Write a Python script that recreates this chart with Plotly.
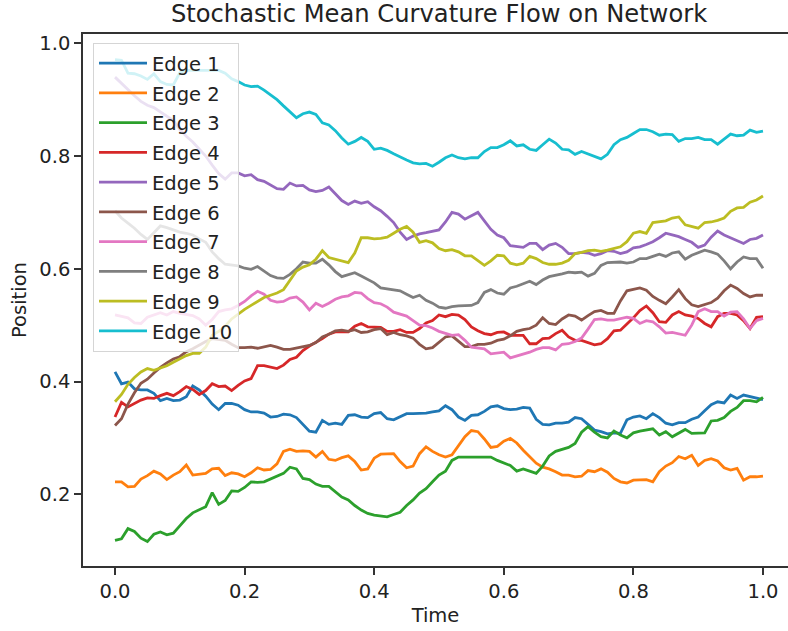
import plotly.graph_objects as go

time = [round(i / 100, 2) for i in range(101)]

edge1 = [0.417, 0.396, 0.399, 0.387, 0.385, 0.385, 0.379, 0.366, 0.370, 0.366,
         0.367, 0.373, 0.392, 0.385, 0.374, 0.360, 0.350, 0.361, 0.361, 0.358,
         0.350, 0.346, 0.346, 0.344, 0.337, 0.338, 0.342, 0.341, 0.336, 0.323,
         0.312, 0.310, 0.331, 0.324, 0.326, 0.324, 0.340, 0.341, 0.337, 0.336,
         0.343, 0.345, 0.334, 0.332, 0.337, 0.343, 0.343, 0.343, 0.344, 0.346,
         0.348, 0.357, 0.350, 0.337, 0.331, 0.340, 0.341, 0.347, 0.355, 0.357,
         0.352, 0.350, 0.351, 0.354, 0.353, 0.333, 0.324, 0.323, 0.326, 0.326,
         0.328, 0.336, 0.334, 0.324, 0.314, 0.311, 0.307, 0.309, 0.308, 0.332,
         0.337, 0.339, 0.334, 0.343, 0.336, 0.326, 0.323, 0.327, 0.327, 0.333,
         0.337, 0.348, 0.359, 0.364, 0.362, 0.376, 0.370, 0.376, 0.373, 0.370,
         0.368]
edge2 = [0.222, 0.222, 0.213, 0.214, 0.227, 0.233, 0.241, 0.236, 0.226, 0.234,
         0.240, 0.252, 0.234, 0.235, 0.237, 0.245, 0.246, 0.233, 0.238, 0.236,
         0.231, 0.238, 0.247, 0.243, 0.244, 0.254, 0.276, 0.280, 0.276, 0.277,
         0.276, 0.266, 0.276, 0.262, 0.260, 0.265, 0.268, 0.258, 0.243, 0.245,
         0.264, 0.271, 0.272, 0.272, 0.258, 0.247, 0.250, 0.272, 0.284, 0.276,
         0.270, 0.266, 0.270, 0.286, 0.302, 0.313, 0.311, 0.298, 0.283, 0.285,
         0.294, 0.299, 0.291, 0.278, 0.267, 0.255, 0.248, 0.245, 0.240, 0.234,
         0.234, 0.231, 0.232, 0.242, 0.240, 0.245, 0.239, 0.228, 0.222, 0.220,
         0.225, 0.226, 0.226, 0.222, 0.240, 0.250, 0.256, 0.267, 0.263, 0.269,
         0.251, 0.260, 0.263, 0.259, 0.247, 0.243, 0.246, 0.225, 0.231, 0.231,
         0.232]
edge3 = [0.118, 0.121, 0.139, 0.134, 0.122, 0.116, 0.129, 0.133, 0.128, 0.131,
         0.144, 0.157, 0.167, 0.172, 0.178, 0.203, 0.182, 0.189, 0.206, 0.205,
         0.212, 0.222, 0.221, 0.222, 0.227, 0.233, 0.237, 0.248, 0.245, 0.228,
         0.226, 0.218, 0.214, 0.214, 0.205, 0.195, 0.190, 0.180, 0.172, 0.166,
         0.163, 0.161, 0.160, 0.164, 0.168, 0.180, 0.190, 0.202, 0.210, 0.222,
         0.234, 0.241, 0.260, 0.266, 0.266, 0.266, 0.267, 0.267, 0.266, 0.260,
         0.255, 0.251, 0.241, 0.245, 0.241, 0.237, 0.250, 0.268, 0.276, 0.280,
         0.283, 0.290, 0.310, 0.320, 0.310, 0.302, 0.300, 0.312, 0.305, 0.300,
         0.309, 0.312, 0.314, 0.316, 0.305, 0.311, 0.302, 0.308, 0.315, 0.308,
         0.308, 0.309, 0.330, 0.331, 0.336, 0.347, 0.354, 0.366, 0.366, 0.364,
         0.372]
edge4 = [0.337, 0.363, 0.355, 0.361, 0.367, 0.371, 0.370, 0.375, 0.379, 0.375,
         0.382, 0.391, 0.386, 0.377, 0.384, 0.396, 0.391, 0.392, 0.384, 0.393,
         0.401, 0.405, 0.428, 0.428, 0.425, 0.423, 0.429, 0.439, 0.443, 0.455,
         0.463, 0.469, 0.476, 0.484, 0.488, 0.488, 0.488, 0.498, 0.503, 0.497,
         0.496, 0.496, 0.489, 0.489, 0.492, 0.487, 0.487, 0.494, 0.504, 0.508,
         0.518, 0.515, 0.519, 0.518, 0.510, 0.497, 0.490, 0.485, 0.483, 0.487,
         0.488, 0.482, 0.482, 0.482, 0.467, 0.467, 0.476, 0.477, 0.485, 0.491,
         0.479, 0.473, 0.473, 0.469, 0.465, 0.467, 0.476, 0.490, 0.491, 0.502,
         0.513, 0.526, 0.534, 0.522, 0.506, 0.505, 0.518, 0.524, 0.518, 0.516,
         0.512, 0.503, 0.497, 0.515, 0.521, 0.521, 0.518, 0.508, 0.494, 0.514,
         0.515]
edge5 = [0.940, 0.929, 0.917, 0.907, 0.897, 0.890, 0.886, 0.878, 0.871, 0.863,
         0.847, 0.835, 0.825, 0.813, 0.800, 0.784, 0.769, 0.759, 0.770, 0.770,
         0.765, 0.767, 0.758, 0.755, 0.749, 0.742, 0.741, 0.752, 0.747, 0.748,
         0.740, 0.737, 0.739, 0.745, 0.733, 0.721, 0.714, 0.720, 0.716, 0.719,
         0.710, 0.703, 0.693, 0.682, 0.665, 0.652, 0.658, 0.662, 0.664, 0.666,
         0.669, 0.683, 0.700, 0.697, 0.688, 0.694, 0.700, 0.685, 0.670, 0.660,
         0.655, 0.641, 0.639, 0.638, 0.645, 0.645, 0.634, 0.642, 0.645, 0.638,
         0.627, 0.627, 0.629, 0.628, 0.624, 0.627, 0.632, 0.631, 0.627, 0.630,
         0.637, 0.639, 0.643, 0.648, 0.655, 0.663, 0.660, 0.657, 0.652, 0.647,
         0.638, 0.642, 0.656, 0.667, 0.660, 0.655, 0.650, 0.645, 0.652, 0.654,
         0.660]
edge6 = [0.322, 0.334, 0.360, 0.380, 0.397, 0.404, 0.415, 0.425, 0.433, 0.440,
         0.444, 0.453, 0.458, 0.465, 0.471, 0.476, 0.474, 0.473, 0.466, 0.460,
         0.460, 0.461, 0.459, 0.461, 0.464, 0.461, 0.457, 0.457, 0.459, 0.461,
         0.464, 0.469, 0.479, 0.484, 0.490, 0.491, 0.489, 0.492, 0.487, 0.488,
         0.492, 0.494, 0.483, 0.487, 0.483, 0.481, 0.477, 0.466, 0.458, 0.460,
         0.470, 0.479, 0.481, 0.472, 0.462, 0.462, 0.466, 0.466, 0.468, 0.473,
         0.475, 0.481, 0.489, 0.492, 0.494, 0.500, 0.513, 0.503, 0.501, 0.511,
         0.518, 0.516, 0.509, 0.517, 0.524, 0.526, 0.521, 0.521, 0.543, 0.561,
         0.564, 0.566, 0.562, 0.551, 0.544, 0.538, 0.550, 0.563, 0.547, 0.536,
         0.533, 0.536, 0.540, 0.548, 0.561, 0.571, 0.565, 0.556, 0.550, 0.553,
         0.553]
edge7 = [0.518, 0.516, 0.513, 0.504, 0.503, 0.514, 0.518, 0.522, 0.518, 0.524,
         0.521, 0.519, 0.517, 0.511, 0.500, 0.510, 0.524, 0.527, 0.529, 0.535,
         0.542, 0.552, 0.560, 0.555, 0.544, 0.541, 0.542, 0.548, 0.550, 0.541,
         0.527, 0.539, 0.533, 0.539, 0.546, 0.550, 0.552, 0.558, 0.557, 0.547,
         0.540, 0.538, 0.532, 0.523, 0.520, 0.516, 0.508, 0.500, 0.499, 0.495,
         0.489, 0.486, 0.482, 0.483, 0.473, 0.461, 0.460, 0.458, 0.449, 0.451,
         0.452, 0.442, 0.445, 0.448, 0.452, 0.457, 0.460, 0.460, 0.456, 0.466,
         0.467, 0.471, 0.477, 0.493, 0.510, 0.511, 0.509, 0.509, 0.512, 0.514,
         0.512, 0.503, 0.508, 0.506, 0.497, 0.486, 0.487, 0.485, 0.482, 0.500,
         0.524, 0.529, 0.524, 0.524, 0.516, 0.523, 0.524, 0.511, 0.494, 0.508,
         0.512]
edge8 = [0.703, 0.690, 0.681, 0.672, 0.661, 0.652, 0.664, 0.676, 0.673, 0.669,
         0.665, 0.663, 0.660, 0.653, 0.647, 0.630, 0.618, 0.608, 0.607, 0.605,
         0.601, 0.599, 0.604, 0.596, 0.588, 0.584, 0.583, 0.590, 0.600, 0.612,
         0.610, 0.610, 0.617, 0.607, 0.595, 0.586, 0.590, 0.593, 0.587, 0.581,
         0.575, 0.566, 0.564, 0.562, 0.561, 0.555, 0.549, 0.553, 0.544, 0.539,
         0.532, 0.530, 0.533, 0.534, 0.534, 0.535, 0.540, 0.558, 0.563, 0.557,
         0.555, 0.566, 0.569, 0.573, 0.578, 0.572, 0.580, 0.586, 0.588, 0.591,
         0.594, 0.593, 0.594, 0.587, 0.592, 0.606, 0.611, 0.612, 0.612, 0.610,
         0.612, 0.618, 0.618, 0.622, 0.626, 0.622, 0.628, 0.630, 0.617, 0.624,
         0.629, 0.633, 0.630, 0.626, 0.614, 0.600, 0.612, 0.621, 0.618, 0.618,
         0.601]
edge9 = [0.364, 0.377, 0.395, 0.407, 0.417, 0.423, 0.420, 0.424, 0.428, 0.434,
         0.440, 0.446, 0.450, 0.450, 0.461, 0.482, 0.489, 0.498, 0.511, 0.520,
         0.528, 0.535, 0.542, 0.549, 0.553, 0.557, 0.563, 0.580, 0.596, 0.603,
         0.607, 0.617, 0.632, 0.620, 0.617, 0.613, 0.611, 0.628, 0.655, 0.655,
         0.653, 0.654, 0.656, 0.663, 0.670, 0.675, 0.665, 0.647, 0.650, 0.646,
         0.636, 0.632, 0.634, 0.630, 0.623, 0.623, 0.615, 0.606, 0.614, 0.624,
         0.623, 0.610, 0.607, 0.610, 0.622, 0.618, 0.611, 0.608, 0.608, 0.610,
         0.615, 0.627, 0.629, 0.632, 0.633, 0.631, 0.633, 0.636, 0.639, 0.648,
         0.663, 0.666, 0.663, 0.682, 0.684, 0.685, 0.690, 0.692, 0.678, 0.675,
         0.672, 0.682, 0.683, 0.686, 0.690, 0.702, 0.708, 0.709, 0.718, 0.722,
         0.729]
edge10 = [0.971, 0.970, 0.947, 0.946, 0.942, 0.936, 0.946, 0.932, 0.927, 0.926,
          0.948, 0.952, 0.952, 0.952, 0.952, 0.952, 0.952, 0.947, 0.937, 0.932,
          0.926, 0.923, 0.924, 0.917, 0.909, 0.900, 0.889, 0.878, 0.868, 0.875,
          0.878, 0.874, 0.859, 0.855, 0.845, 0.832, 0.821, 0.826, 0.833, 0.826,
          0.812, 0.814, 0.810, 0.804, 0.798, 0.793, 0.788, 0.786, 0.787, 0.782,
          0.789, 0.797, 0.802, 0.797, 0.795, 0.797, 0.797, 0.808, 0.815, 0.815,
          0.820, 0.827, 0.818, 0.820, 0.812, 0.810, 0.820, 0.830, 0.823, 0.812,
          0.811, 0.803, 0.808, 0.804, 0.800, 0.795, 0.803, 0.820, 0.829, 0.833,
          0.840, 0.847, 0.847, 0.843, 0.837, 0.839, 0.838, 0.826, 0.831, 0.831,
          0.833, 0.829, 0.829, 0.821, 0.830, 0.839, 0.836, 0.837, 0.846, 0.842,
          0.844]

series_names = ["Edge 1", "Edge 2", "Edge 3", "Edge 4", "Edge 5",
                "Edge 6", "Edge 7", "Edge 8", "Edge 9", "Edge 10"]
series_values = [edge1, edge2, edge3, edge4, edge5,
                 edge6, edge7, edge8, edge9, edge10]
colors = ["#1f77b4", "#ff7f0e", "#2ca02c", "#d62728", "#9467bd",
          "#8c564b", "#e377c2", "#7f7f7f", "#bcbd22", "#17becf"]

x_ticks = [0.0, 0.2, 0.4, 0.6, 0.8, 1.0]
y_ticks = [0.2, 0.4, 0.6, 0.8, 1.0]

FONT = "DejaVu Sans"
TXT = "#222222"
BASE = 19.5

fig = go.Figure()
for i, (name, vals) in enumerate(zip(series_names, series_values)):
    fig.add_trace(go.Scatter(
        x=time, y=vals, mode="lines", name=name,
        legendgroup=f"g{i}",
        line=dict(color=colors[i], width=2.8),
    ))

fig.update_layout(
    width=788, height=631,
    margin=dict(l=83, r=0, t=34, b=65),
    paper_bgcolor="white", plot_bgcolor="white",
    font=dict(family=FONT, size=BASE, color=TXT),
    title=dict(text="Stochastic Mean Curvature Flow on Network",
               x=0.505, xref="paper", xanchor="center",
               y=1 - 13.5 / 631, yref="container", yanchor="middle",
               font=dict(family=FONT, size=24.2, color=TXT)),
    showlegend=True,
    legend=dict(x=0.0142, y=0.983, xanchor="left", yanchor="top",
                bgcolor="rgba(255,255,255,0.8)", bordercolor="#d5d5d5",
                borderwidth=1, font=dict(family=FONT, size=BASE, color=TXT),
                traceorder="grouped", tracegroupgap=1.4, itemwidth=48),
    xaxis=dict(range=[-0.0494, 1.0386], tickvals=x_ticks, tickformat=".1f",
               showgrid=False, zeroline=False, showline=True, mirror=True,
               linecolor="#333333", linewidth=1.5, automargin=False,
               ticks="outside", ticklen=7, tickwidth=1.5, tickcolor="#333333",
               title=dict(text="Time", standoff=6,
                          font=dict(family=FONT, size=BASE, color=TXT))),
    yaxis=dict(range=[0.0727, 1.0165], tickvals=y_ticks, tickformat=".1f",
               showgrid=False, zeroline=False, showline=True, mirror=False,
               linecolor="#333333", linewidth=1.5, automargin=False,
               ticks="outside", ticklen=7, tickwidth=1.5, tickcolor="#333333",
               title=dict(text="Position", standoff=8,
                          font=dict(family=FONT, size=BASE, color=TXT))),
)

fig.write_html("out.html", config={"displayModeBar": False},
               post_script="document.body.style.margin='0px';")
